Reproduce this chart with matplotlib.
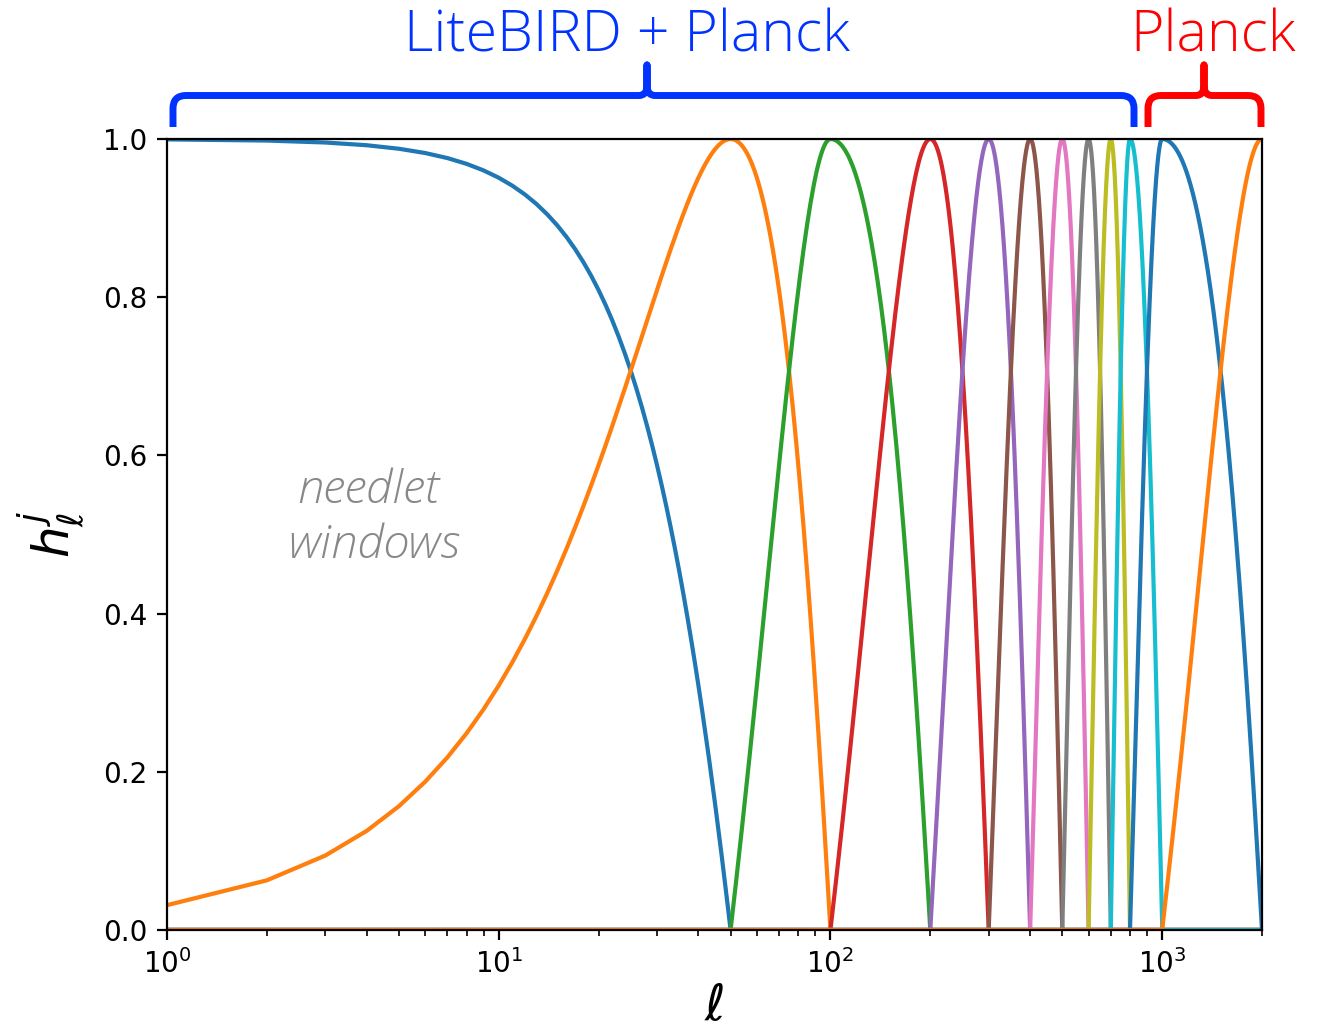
import numpy as np
import matplotlib
matplotlib.use("Agg")
import matplotlib.pyplot as plt
from matplotlib.path import Path
from matplotlib.patches import PathPatch

# Needlet band peaks (multipoles)
peaks = [0, 50, 100, 200, 300, 400, 500, 600, 700, 800, 1000, 2000]
lmax = 2000
ell = np.arange(0, lmax + 1)

y_ticks = [0.0, 0.2, 0.4, 0.6, 0.8, 1.0]
title_main = "LiteBIRD + Planck"
title_right = "Planck"
annot_lines = ["needlet", "windows"]


def cosine_window(j):
    h = np.zeros(ell.size, dtype=float)
    p = peaks[j]
    if j > 0:
        lo = peaks[j - 1]
        m = (ell >= lo) & (ell < p)
        h[m] = np.cos(0.5 * np.pi * (p - ell[m]) / (p - lo))
    if j < len(peaks) - 1:
        hi = peaks[j + 1]
        m = (ell >= p) & (ell <= hi)
        h[m] = np.cos(0.5 * np.pi * (ell[m] - p) / (hi - p))
    else:
        h[ell == p] = 1.0
    return h


W, H, DPI = 1322, 1031, 200
fig = plt.figure(figsize=(W / DPI, H / DPI), dpi=DPI)
ax = fig.add_axes([167 / W, 1 - 930 / H, (1262 - 167) / W, (930 - 139) / H])

for j in range(len(peaks)):
    ax.plot(ell, cosine_window(j), lw=1.5)

ax.set_xscale("log")
ax.set_xlim(1, lmax)
ax.set_ylim(0, 1)
ax.set_yticks(y_ticks)
ax.set_xlabel(r"$\ell$", fontsize=18, labelpad=1)
ax.set_ylabel(r"$h_\ell^j$", fontsize=18, labelpad=6)


def px(x, y):
    return (x / W, 1 - y / H)


def brace(x0, x1, xt, color, yb=95.5, yt=65, ye=127, r=13, rt=8):
    verts = [
        px(x0, ye), px(x0, yb + r), px(x0, yb), px(x0 + r, yb),
        px(xt - rt, yb), px(xt, yb), px(xt, yb - 10), px(xt, yt),
        px(xt, yb - 10), px(xt, yb), px(xt + rt, yb),
        px(x1 - r, yb), px(x1, yb), px(x1, yb + r), px(x1, ye),
    ]
    codes = [
        Path.MOVETO, Path.LINETO, Path.CURVE3, Path.CURVE3,
        Path.LINETO, Path.CURVE3, Path.CURVE3, Path.LINETO,
        Path.LINETO, Path.CURVE3, Path.CURVE3,
        Path.LINETO, Path.CURVE3, Path.CURVE3, Path.LINETO,
    ]
    patch = PathPatch(Path(verts, codes), transform=fig.transFigure,
                      facecolor="none", edgecolor=color, lw=2.5,
                      capstyle="butt", joinstyle="round", clip_on=False)
    fig.add_artist(patch)


blue = "#0033FF"
red = "#FF0000"
brace(173, 1134, 647, blue)
brace(1148, 1261, 1204, red)

fig.text(*px(627, 52), title_main, color=blue, fontsize=20.6,
         family="Open Sans", weight="light", ha="center", va="baseline")
fig.text(*px(1213, 52), title_right, color=red, fontsize=20.6,
         family="Open Sans", weight="light", ha="center", va="baseline")

fig.text(*px(368, 503), annot_lines[0], color="#888888", fontsize=17,
         family="Open Sans", weight="light", style="italic",
         ha="center", va="baseline")
fig.text(*px(374, 558), annot_lines[1], color="#888888", fontsize=17,
         family="Open Sans", weight="light", style="italic",
         ha="center", va="baseline")

fig.savefig("out.png", dpi=DPI)
